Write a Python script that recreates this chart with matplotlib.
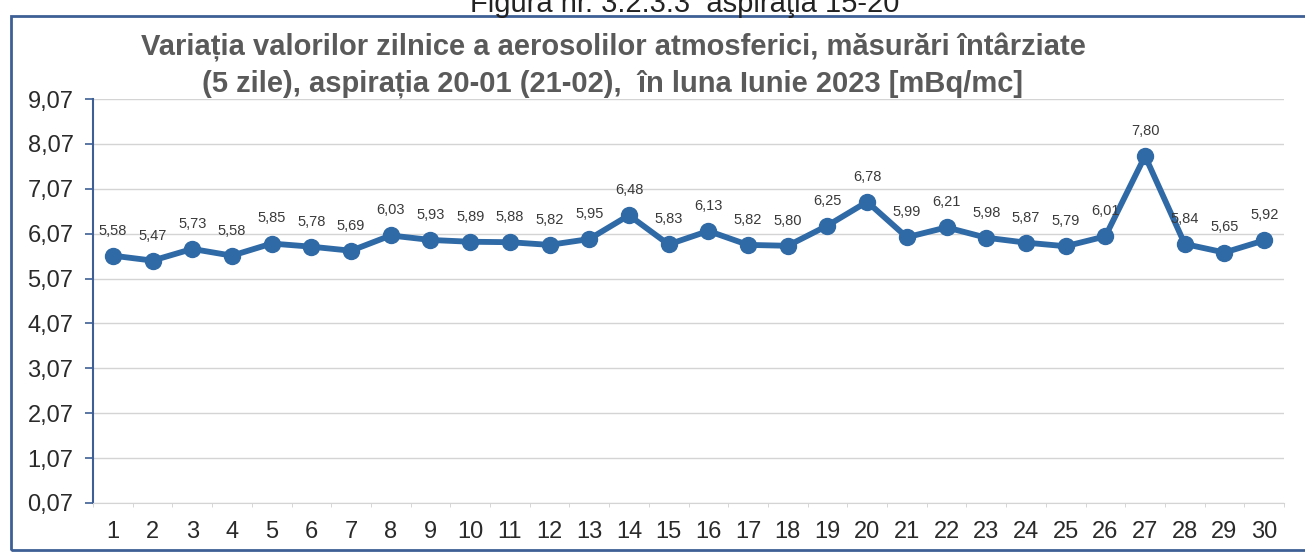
import matplotlib
matplotlib.use('Agg')
import matplotlib.pyplot as plt
from matplotlib.patches import Rectangle
from matplotlib.ticker import FixedLocator

plt.rcParams['font.family'] = ['Liberation Sans', 'DejaVu Sans']

########## data
days = list(range(1, 31))
values = [5.58, 5.47, 5.73, 5.58, 5.85, 5.78, 5.69, 6.03, 5.93, 5.89,
          5.88, 5.82, 5.95, 6.48, 5.83, 6.13, 5.82, 5.80, 6.25, 6.78,
          5.99, 6.21, 5.98, 5.87, 5.79, 6.01, 7.80, 5.84, 5.65, 5.92]
y_ticks = [0.07, 1.07, 2.07, 3.07, 4.07, 5.07, 6.07, 7.07, 8.07, 9.07]

title1 = 'Variația valorilor zilnice a aerosolilor atmosferici, măsurări întârziate'
title2 = '(5 zile), aspirația 20-01 (21-02),  în luna Iunie 2023 [mBq/mc]'
caption = 'Figura nr. 3.2.3.3  aspiraţia 15-20'

def fmt(v):
    return ('%.2f' % v).replace('.', ',')

W, H = 1305, 554
fig = plt.figure(figsize=(W/100, H/100), dpi=100)

# page caption, cut by the top edge of the scan like in the original
fig.text(685/W, 1 - 12/H, caption, ha='center', va='baseline', fontsize=21, color='#222222')

# frame round the chart
fig.patches.append(Rectangle((11/W, 1 - 550/H), 1.2, (550 - 16)/H, transform=fig.transFigure,
                             fill=False, edgecolor='#3d5f95', linewidth=2))

ax = fig.add_axes([93/W, 1 - 503/H, (1284 - 93)/W, (503 - 99)/H])
ax.plot(days, values, color='#2f69a6', linewidth=4.2, marker='o', markersize=11.5,
        solid_joinstyle='round')
for d, v in zip(days, values):
    ax.annotate(fmt(v), (d, v), xytext=(0, 13), textcoords='offset points',
                ha='center', va='bottom', fontsize=10.5, color='#3a3a3a')

ax.set_xlim(0.5, 30.5)
ax.set_ylim(0.07, 9.07)
ax.set_yticks(y_ticks)
ax.set_yticklabels([fmt(t) for t in y_ticks])
ax.set_xticks(days)
ax.set_xticklabels([str(d) for d in days])
ax.xaxis.set_minor_locator(FixedLocator([d + 0.5 for d in range(0, 31)]))
ax.tick_params(axis='x', which='major', length=0, labelsize=17, pad=13, labelcolor='#2a2a2a')
ax.tick_params(axis='x', which='minor', length=3, color='#d0d0d0')
ax.tick_params(axis='y', length=6, width=1.2, color='#3d5f95', labelsize=17, pad=8,
               labelcolor='#2a2a2a')
ax.grid(axis='y', color='#d4d4d4', linewidth=1)
ax.set_axisbelow(True)
for s in ['top', 'right']:
    ax.spines[s].set_visible(False)
ax.spines['left'].set_color('#3d5f95')
ax.spines['left'].set_linewidth(1.5)
ax.spines['bottom'].set_color('#d4d4d4')

fig.text(613/W, 1 - 47/H, title1, ha='center', va='center', fontsize=21,
         fontweight='bold', color='#5a5a5a')
fig.text(613/W, 1 - 84/H, title2, ha='center', va='center', fontsize=21,
         fontweight='bold', color='#5a5a5a')

fig.savefig('out.png', dpi=100)
